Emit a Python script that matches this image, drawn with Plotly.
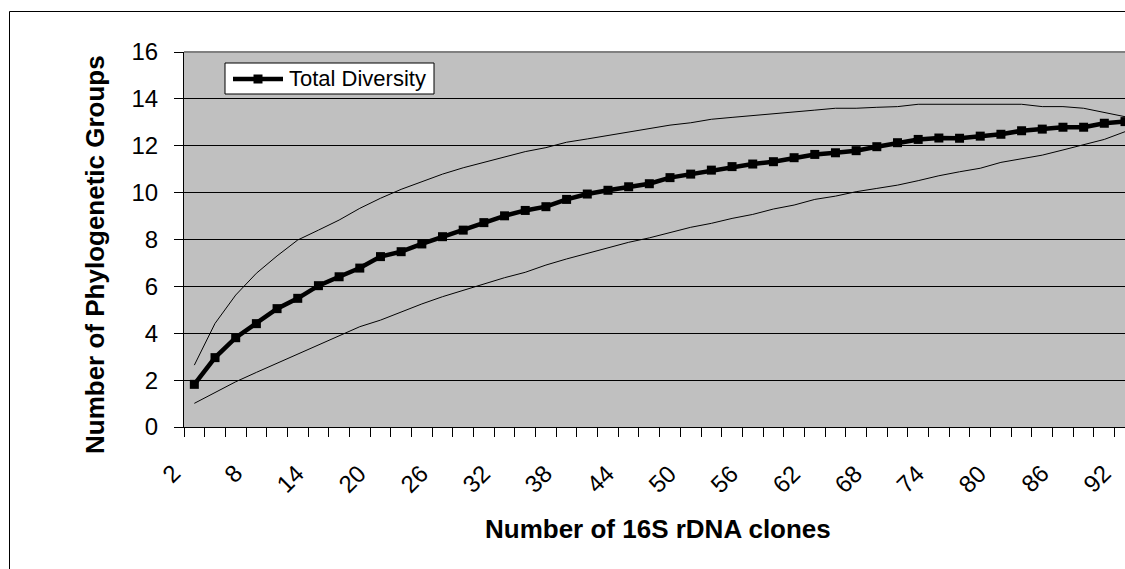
import plotly.graph_objects as go

# Categories: number of 16S rDNA clones
clones = list(range(2, 94, 2))  # 2..92

total_diversity = [1.82, 2.96, 3.81, 4.41, 5.05, 5.49, 6.03, 6.41, 6.78, 7.27,
                   7.48, 7.81, 8.12, 8.40, 8.72, 9.01, 9.24, 9.40, 9.71, 9.94,
                   10.10, 10.25, 10.38, 10.64, 10.79, 10.96, 11.11, 11.22, 11.32, 11.49,
                   11.63, 11.70, 11.79, 11.96, 12.13, 12.27, 12.33, 12.32, 12.41, 12.49,
                   12.64, 12.71, 12.79, 12.79, 12.96, 13.03]

upper_bound = [2.64, 4.42, 5.63, 6.56, 7.30, 7.98, 8.40, 8.83, 9.33, 9.76,
               10.14, 10.47, 10.79, 11.06, 11.29, 11.53, 11.75, 11.92, 12.15, 12.29,
               12.44, 12.60, 12.72, 12.88, 12.98, 13.13, 13.21, 13.28, 13.38, 13.45,
               13.52, 13.60, 13.60, 13.64, 13.67, 13.77, 13.77, 13.77, 13.77, 13.77,
               13.77, 13.67, 13.67, 13.60, 13.41, 13.24]

lower_bound = [1.01, 1.48, 1.93, 2.33, 2.72, 3.11, 3.50, 3.92, 4.28, 4.56,
               4.92, 5.25, 5.56, 5.84, 6.09, 6.37, 6.60, 6.91, 7.17, 7.41,
               7.65, 7.88, 8.07, 8.29, 8.52, 8.69, 8.90, 9.07, 9.30, 9.47,
               9.71, 9.85, 10.04, 10.18, 10.32, 10.51, 10.72, 10.89, 11.04, 11.29,
               11.46, 11.60, 11.82, 12.06, 12.27, 12.60]

legend_label = "Total Diversity"
x_title = "Number of 16S rDNA clones"
y_title = "Number of Phylogenetic Groups"

label_every = 3
idx = list(range(len(clones)))
tick_idx = idx[::label_every]
tick_txt = [str(clones[i]) for i in tick_idx]

FONT = "Liberation Sans, Arial, sans-serif"

W, H = 1125, 569
PL, PT, PB = 184, 52, 427          # plot area in page pixels
plot_w = W - PL
plot_h = PB - PT


def px(X):
    return (X - PL) / plot_w


def py(Y):
    return (PB - Y) / plot_h


xmax = len(clones) - 1  # chart is cropped at the last category centre

fig = go.Figure()
fig.add_trace(go.Scatter(x=idx, y=upper_bound, mode="lines",
                         line=dict(color="black", width=1), showlegend=False,
                         hoverinfo="skip"))
fig.add_trace(go.Scatter(x=idx, y=lower_bound, mode="lines",
                         line=dict(color="black", width=1), showlegend=False,
                         hoverinfo="skip"))
fig.add_trace(go.Scatter(x=idx, y=total_diversity, mode="lines+markers",
                         name=legend_label, showlegend=False,
                         line=dict(color="black", width=4.5),
                         marker=dict(symbol="square", size=9, color="black")))

fig.update_layout(
    width=W, height=H,
    margin=dict(l=PL, r=0, t=PT, b=H - PB, pad=0),
    paper_bgcolor="white",
    plot_bgcolor="#C0C0C0",
    font=dict(family=FONT, color="black", size=24),
    showlegend=False,
    xaxis=dict(range=[-0.5, xmax], tickmode="array", tickvals=tick_idx, ticktext=tick_txt,
               showticklabels=False, ticks="", showgrid=False, zeroline=False,
               showline=True, linecolor="black", linewidth=1,
               minor=dict(tickmode="linear", tick0=-0.5, dtick=1, ticks="outside",
                          ticklen=9, tickcolor="black", tickwidth=1, showgrid=False)),
    yaxis=dict(range=[0, 16], tickmode="linear", tick0=0, dtick=2,
               ticks="outside", ticklen=9, tickcolor="black", tickwidth=1,
               showgrid=True, gridcolor="black", gridwidth=1, zeroline=False,
               showline=True, linecolor="black", linewidth=1,
               tickfont=dict(size=24, family=FONT, color="black"),
               ticklabelstandoff=11),
)

# rotated category labels (every 3rd category)
for i, t in zip(tick_idx, tick_txt):
    fig.add_annotation(text=t, xref="x", yref="paper", x=i, y=0,
                       xshift=-6, yshift=-30, showarrow=False,
                       textangle=-45, xanchor="right", yanchor="top",
                       font=dict(size=24, family=FONT, color="black"))

# Axis titles
fig.add_annotation(text=x_title, xref="paper", yref="paper",
                   x=px(658), y=py(529), showarrow=False,
                   xanchor="center", yanchor="middle",
                   font=dict(size=26, family=FONT, color="black", weight="bold"))
fig.add_annotation(text=y_title, xref="paper", yref="paper",
                   x=px(95), y=py(255), showarrow=False,
                   textangle=-90, xanchor="center", yanchor="middle",
                   font=dict(size=26, family=FONT, color="black", weight="bold"))

# Legend box (drawn manually to match the original's compact box)
fig.add_shape(type="rect", xref="paper", yref="paper",
              x0=px(225), x1=px(434), y0=py(94), y1=py(63),
              fillcolor="white", line=dict(color="black", width=1), layer="above")
fig.add_shape(type="line", xref="paper", yref="paper",
              x0=px(233), x1=px(283), y0=py(79), y1=py(79),
              line=dict(color="black", width=4.5), layer="above")
fig.add_shape(type="rect", xref="paper", yref="paper",
              x0=px(253.5), x1=px(262.5), y0=py(83.5), y1=py(74.5),
              fillcolor="black", line=dict(color="black", width=0), layer="above")
fig.add_annotation(text=legend_label, xref="paper", yref="paper",
                   x=px(287), y=py(78.5), showarrow=False,
                   xanchor="left", yanchor="middle",
                   font=dict(size=22, family=FONT, color="black"))

# plot-area top border (gray)
fig.add_shape(type="line", xref="paper", yref="paper", x0=0, x1=1.01, y0=1, y1=1,
              line=dict(color="#808080", width=2), layer="above")
# outer chart-area border (left and top edges visible)
fig.add_shape(type="path", xref="paper", yref="paper",
              path="M %f,%f L %f,%f L %f,%f" % (1.02, py(11.5), px(9.5), py(11.5),
                                                px(9.5), py(600)),
              line=dict(color="black", width=1), layer="above")

fig.write_html("out.html", config={"displayModeBar": False},
               post_script="document.body.style.margin='0';"
                           "document.body.style.overflow='hidden';")
